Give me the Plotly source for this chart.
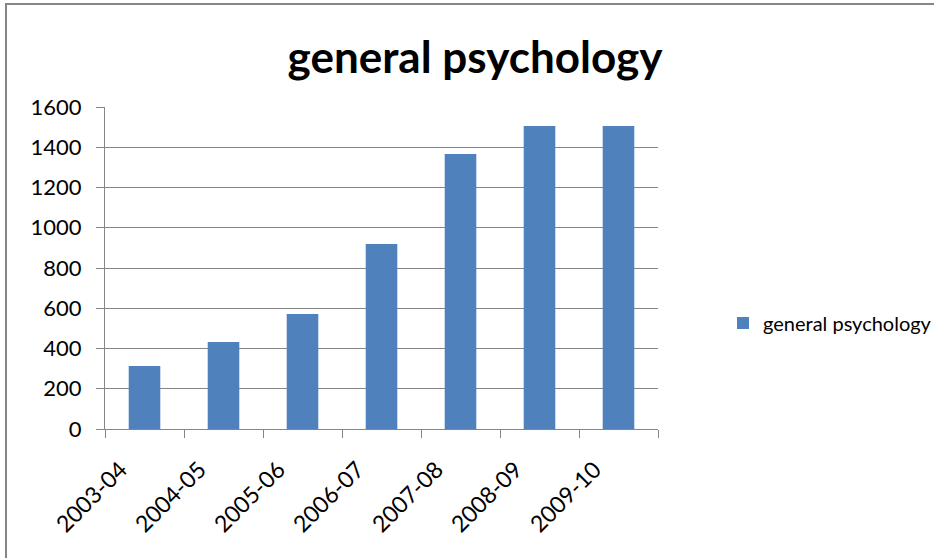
import plotly.graph_objects as go

categories = ["2003-04", "2004-05", "2005-06", "2006-07", "2007-08", "2008-09", "2009-10"]
values = [313, 432, 571, 919, 1366, 1506, 1506]
series_name = "general psychology"
y_ticks = [0, 200, 400, 600, 800, 1000, 1200, 1400, 1600]

W, H = 934, 558
L, R, T, B = 105, 658, 107, 429

FONT = "Lato"
GRAY = "#868686"

fig = go.Figure()
fig.add_trace(go.Bar(x=categories, y=values, name=series_name,
                     marker=dict(color="#4F81BD", line=dict(width=0))))

fig.update_layout(
    width=W, height=H,
    margin=dict(l=L, r=W - R, t=T, b=H - B, pad=0),
    paper_bgcolor="white", plot_bgcolor="white",
    bargap=0.6,
    showlegend=True,
    font=dict(family=FONT, color="black", size=21),
    title=dict(text="<b>general psychology</b>", x=475 / W, xref="container", xanchor="center",
               y=1 - 58 / H, yref="container", yanchor="middle",
               font=dict(family=FONT, size=44, color="black")),
    legend=dict(xref="container", yref="container", x=723 / W, y=1 - 323 / H,
                xanchor="left", yanchor="middle", font=dict(family=FONT, size=20),
                itemwidth=30, bgcolor="rgba(0,0,0,0)"),
    xaxis=dict(type="category", showgrid=False, showline=True, linecolor=GRAY, linewidth=1,
               ticks="outside", tickson="boundaries", ticklen=8, tickcolor=GRAY,
               tickangle=-45, tickfont=dict(family=FONT, size=23),
               ticklabelstandoff=17, ticklabelshift=-24),
    yaxis=dict(range=[0, 1600], tickvals=y_ticks, showgrid=True, gridcolor=GRAY, gridwidth=1,
               showline=True, linecolor=GRAY, linewidth=1, ticks="outside", ticklen=8,
               tickcolor=GRAY, zeroline=False, tickfont=dict(family=FONT, size=22),
               ticklabelstandoff=10),
    shapes=[dict(type="rect", xref="paper", yref="paper",
                 x0=(6 - L) / (R - L), x1=(W + 20 - L) / (R - L),
                 y0=(B - (H + 20)) / (B - T), y1=(B - 4) / (B - T),
                 line=dict(color=GRAY, width=2), fillcolor="rgba(0,0,0,0)", layer="below")],
)

fig.write_html("out.html", config={"displayModeBar": False},
               post_script="document.body.style.margin='0';")
